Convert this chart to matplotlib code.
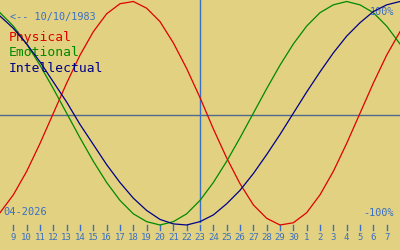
import matplotlib
matplotlib.use("Agg")
import matplotlib.pyplot as plt

# ---- data ----
day_labels = [9, 10, 11, 12, 13, 14, 15, 16, 17, 18, 19, 20, 21, 22, 23, 24, 25,
              26, 27, 28, 29, 30, 1, 2, 3, 4, 5, 6, 7]
physical = [-89, -73, -52, -27, 0, 27, 52, 73, 89, 98, 100, 94, 82, 63, 40, 14,
            -14, -40, -63, -82, -94, -100, -98, -89, -73, -52, -27, 0, 27, 52, 73]
emotional = [90, 78, 62, 43, 22, 0, -22, -43, -62, -78, -90, -97, -100, -97, -90,
             -78, -62, -43, -22, 0, 22, 43, 62, 78, 90, 97, 100, 97, 90, 78, 62]
intellectual = [87, 76, 62, 46, 28, 10, -10, -28, -46, -62, -76, -87, -95, -99,
                -100, -97, -91, -81, -69, -54, -37, -19, 0, 19, 37, 54, 69, 81,
                91, 97, 100]
series_names = ["Physical", "Emotional", "Intellectual"]
today_index = 15
birth_label = "<-- 10/10/1983"
month_label = "04-2026"

BG = "#e1d181"
RED = "#e00000"
GREEN = "#008a00"
NAVY = "#000088"
TXT = "#3a6fc4"
MID = "#4f6a8c"
FONT = "DejaVu Sans Mono"

W, H = 400, 250
fig = plt.figure(figsize=(W / 100, H / 100), dpi=100, facecolor=BG)
ax = fig.add_axes([0, 0, 1, 1])
ax.set_facecolor(BG)
ax.axis("off")

# y mapping: +100% at 1.5px from top, -100% at 225px from top
b = 223.5 / 200.0
a = 113.25
ax.set_xlim(0, 30)
ax.set_ylim((a - H) / b, a / b)

def fy(py):
    return 1 - py / H

# reference lines
ax.axhline((a - 115) / b, color=MID, lw=1.0, zorder=1)
ax.plot([today_index, today_index], [fy(222), 1], color=TXT, lw=1.0,
        transform=ax.get_xaxis_transform(), zorder=1)

x = list(range(len(physical)))
ax.plot(x, physical, color=RED, lw=0.9, zorder=3)
ax.plot(x, emotional, color=GREEN, lw=0.9, zorder=3)
ax.plot(x, intellectual, color=NAVY, lw=0.9, zorder=4)

# day ticks
xt = ax.get_xaxis_transform()
for k, lab in enumerate(day_labels, start=1):
    ax.plot([k, k], [fy(225), fy(230)], color=TXT, lw=1.0, transform=xt)
    ax.text(k, fy(237.5), str(lab), transform=xt, ha="center", va="center",
            fontsize=6.5, color=TXT, family=FONT)

# texts
T = ax.transAxes
ax.text(10 / W, fy(16.5), birth_label, transform=T, ha="left", va="center",
        fontsize=7.3, color=TXT, family=FONT)
for name, col, py in zip(series_names, [RED, GREEN, NAVY], [38, 53, 68]):
    ax.text(9 / W, fy(py), name, transform=T, ha="left", va="center",
            fontsize=9.4, color=col, family=FONT)
ax.text(3 / W, fy(212), month_label, transform=T, ha="left", va="center",
        fontsize=7.5, color=TXT, family=FONT)
ax.text(394 / W, fy(12), "100%", transform=T, ha="right", va="center",
        fontsize=7.3, color=TXT, family=FONT)
ax.text(394 / W, fy(213), "-100%", transform=T, ha="right", va="center",
        fontsize=7.3, color=TXT, family=FONT)

fig.savefig("out.png", dpi=100, facecolor=BG)
